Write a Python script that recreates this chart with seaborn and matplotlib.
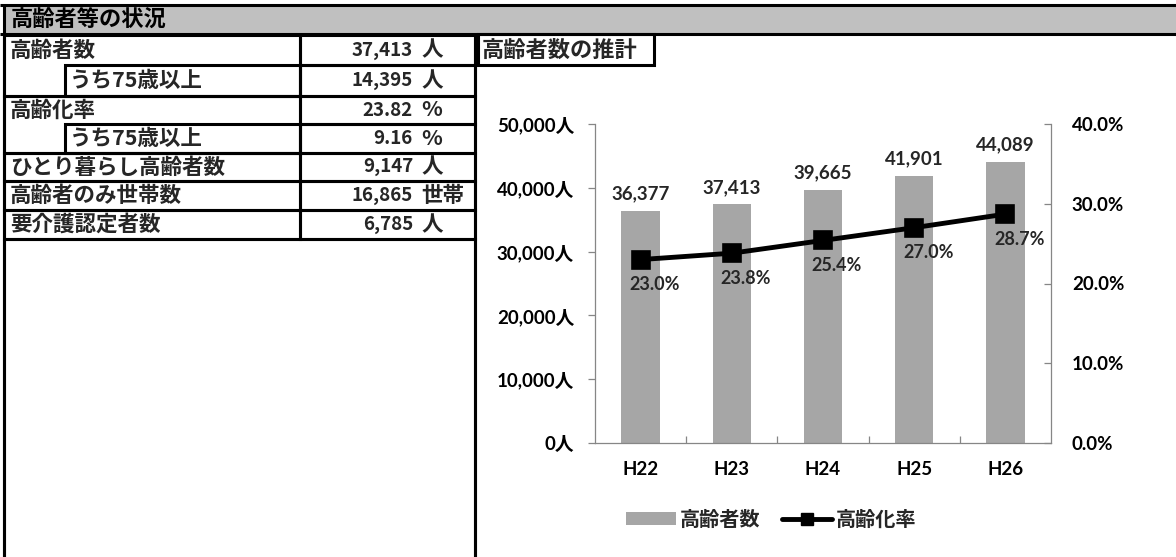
import matplotlib
matplotlib.use("Agg")
import matplotlib.pyplot as plt
from matplotlib.patches import Rectangle, Patch
from matplotlib.lines import Line2D
from matplotlib.ticker import FixedLocator
import seaborn as sns
import pandas as pd

# ---------------- data ----------------
header_title = "高齢者等の状況"
table_labels = ["高齢者数", "うち75歳以上", "高齢化率", "うち75歳以上",
                "ひとり暮らし高齢者数", "高齢者のみ世帯数", "要介護認定者数"]
table_values = ["37,413", "14,395", "23.82", "9.16", "9,147", "16,865", "6,785"]
table_units = ["人", "人", "%", "%", "人", "世帯", "人"]

chart_title = "高齢者数の推計"
years = ["H22", "H23", "H24", "H25", "H26"]
elderly = [36377, 37413, 39665, 41901, 44089]
aging_rate = [23.0, 23.8, 25.4, 27.0, 28.7]
left_ticks = [0, 10000, 20000, 30000, 40000, 50000]
right_ticks = [0, 10, 20, 30, 40]
legend_labels = ["高齢者数", "高齢化率"]

# ---------------- style ----------------
sns.set_theme(style="white")
CJK = ["Noto Sans CJK JP", "DejaVu Sans"]
NUM = ["Lato", "Noto Sans CJK JP", "DejaVu Sans"]
plt.rcParams["font.family"] = CJK

W, H = 1176, 557
fig = plt.figure(figsize=(W / 100, H / 100), dpi=100)
fig.patch.set_facecolor("white")

# background axes in pixel coordinates for the table part
bg = fig.add_axes([0, 0, 1, 1])
bg.set_xlim(0, W)
bg.set_ylim(H, 0)
bg.axis("off")

LW = 2.2  # ~3px
TFS = 15.5


def box(x0, y0, x1, y1, fill="none", lw=LW):
    bg.add_patch(Rectangle((x0, y0), x1 - x0, y1 - y0, facecolor=fill,
                           edgecolor="black", linewidth=lw))


def line(xs, ys, lw=LW):
    bg.plot(xs, ys, color="black", linewidth=lw, solid_capstyle="butt")


# header band
bg.add_patch(Rectangle((4, 6), W - 4, 28, facecolor="#c0c0c0", edgecolor="none"))
line([0, W], [5, 5])
line([0, W], [34, 34])
line([4, 4], [5, H + 5])
line([475, 475], [34, H + 5])
bg.text(11, 20, header_title, fontsize=16, fontweight="bold", va="center",
        ha="left", color="black")

# table rows
bounds = [35, 65, 96, 124, 153, 181, 210, 239]
i = 0
while i < len(table_labels):
    top, bot = bounds[i], bounds[i + 1]
    nxt_is_sub = i + 1 < len(table_labels) and table_labels[i + 1].startswith("うち")
    if nxt_is_sub:
        box(4, top, 300, bounds[i + 2])
        box(65, bounds[i + 1], 300, bounds[i + 2])
        i += 2
    else:
        box(4, top, 300, bot)
        i += 1

for k, (lab, val, unit) in enumerate(zip(table_labels, table_values, table_units)):
    top, bot = bounds[k], bounds[k + 1]
    yc = (top + bot) / 2
    box(300, top, 475, bot)
    x_lab = 70 if lab.startswith("うち") else 10
    bg.text(x_lab, yc, lab, fontsize=TFS, fontweight="bold", va="center", ha="left")
    bg.text(413, yc, val, fontsize=13.5, fontweight="bold", va="center", ha="right")
    bg.text(421, yc, unit, fontsize=TFS, fontweight="bold", va="center", ha="left")

box(4, 239, 475, H + 10)

# chart title box
box(478, 34, 654, 65)
bg.text(482, 50, chart_title, fontsize=16, fontweight="bold", va="center", ha="left")

# ---------------- chart ----------------
ax = fig.add_axes([595 / W, (H - 443) / H, 456 / W, 319 / H])
ax.set_facecolor("none")
df = pd.DataFrame({"year": years, "elderly": elderly, "rate": aging_rate})

CFS = 13.5
sns.barplot(data=df, x="year", y="elderly", ax=ax, color="#a6a6a6",
            saturation=1, width=0.42, edgecolor="none")
ax.set_ylim(0, 50000)
ax.set_yticks(left_ticks)
ax.set_yticklabels([f"{v:,}人" for v in left_ticks], family=NUM,
                   fontsize=CFS, fontweight="bold")
ax.bar_label(ax.containers[0], labels=[f"{v:,}" for v in elderly], padding=6,
             fontsize=CFS, family=NUM, fontweight="bold")
ax.set_xlabel("")
ax.set_ylabel("")

ax2 = ax.twinx()
sns.pointplot(data=df, x="year", y="rate", ax=ax2, color="black", markers="s",
              errorbar=None, markersize=11, linewidth=3.5)
ax2.set_ylim(0, 40)
ax2.set_yticks(right_ticks)
ax2.set_yticklabels([f"{v:.1f}%" for v in right_ticks], family=NUM,
                    fontsize=CFS, fontweight="bold")
ax2.set_ylabel("")
ax2.set_xlabel("")
for xi, r in enumerate(aging_rate):
    ax2.annotate(f"{r:.1f}%", (xi, r), xytext=(14, -25), textcoords="offset pixels",
                 ha="center", va="center", fontsize=13, family=NUM, fontweight="bold")

ax.set_xlim(-0.5, len(years) - 0.5)
ax.xaxis.set_major_locator(FixedLocator(range(len(years))))
ax.set_xticklabels(years, family=NUM, fontsize=CFS, fontweight="bold")
ax.xaxis.set_minor_locator(FixedLocator([k + 0.5 for k in range(len(years) - 1)]))

spine_c = "#868686"
for a in (ax, ax2):
    for s in a.spines.values():
        s.set_color(spine_c)
        s.set_linewidth(0.9)
    a.spines["top"].set_visible(False)
    a.grid(False)
ax.spines["right"].set_visible(False)
ax2.spines["left"].set_visible(False)
ax2.spines["bottom"].set_visible(False)

ax.tick_params(axis="x", which="major", length=0, pad=13, colors="black")
ax.tick_params(axis="x", which="minor", length=5, direction="in", color=spine_c,
               bottom=True, width=0.9)
ax.tick_params(axis="y", length=5, direction="out", color=spine_c, left=True,
               pad=10, labelcolor="black", width=0.9)
ax2.tick_params(axis="y", length=5, direction="in", color=spine_c, right=True,
                pad=15, labelcolor="black", width=0.9)

# legend
handles = [Patch(facecolor="#a6a6a6", edgecolor="none"),
           Line2D([], [], color="black", lw=3.5, marker="s", markersize=9)]
fig.legend(handles, legend_labels, loc="center", bbox_to_anchor=(771 / W, 1 - 519 / H),
           ncol=2, frameon=False, handlelength=2.5, handleheight=0.6,
           handletextpad=0.15, columnspacing=1.1,
           prop={"family": CJK, "weight": "bold", "size": 14.5})

fig.savefig("out.png", dpi=100, facecolor="white")
